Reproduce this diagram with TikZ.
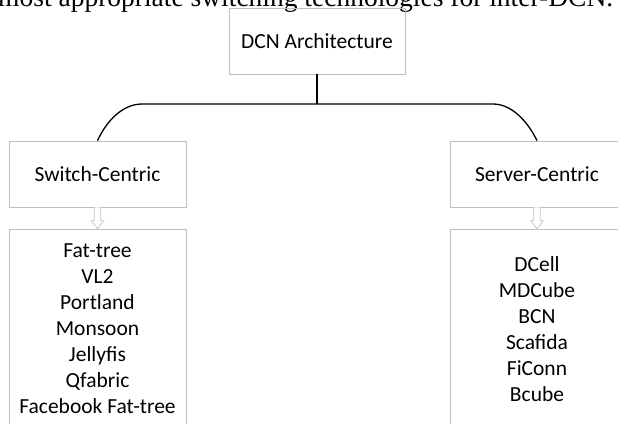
\documentclass[tikz,border=0pt]{standalone}
\usepackage{fontspec}
\usetikzlibrary{calc}
\newfontfamily\calibrifont{Carlito}
\newfontfamily\timesfont{Liberation Serif}
\definecolor{boxgray}{HTML}{BFBFBF}
\definecolor{arrowgreen}{HTML}{B8C8B8}
\def\boxh{66}
\def\shaft{3.2}
\def\headw{6.5}
\def\headl{8}

\begin{document}
\begin{tikzpicture}[x=1pt,y=-1pt]
    \tikzset{%
      catbox/.style={%
        draw=boxgray, line width=0.8pt, inner sep=0pt, minimum width=177pt, minimum height=\boxh pt,
        text=black, font=\calibrifont\fontsize{21.5}{26}\selectfont},
      listbox/.style={catbox, minimum height=200pt, align=center},
      branch/.style={line width=1.3pt},
      hollowarrow/.style={draw=arrowgreen, line width=0.7pt, fill=white}}

    \useasboundingbox (0,0) rectangle (618,423);
    \clip (0,0) rectangle (618,423);
   % \draw[help lines,step=20] (0,0) grid (618,423);

    \node[anchor=base west, inner sep=0pt, font=\timesfont\fontsize{27.5}{30}\selectfont] (lead) at (-2,6) {most appropriate switching technologies for inter-DCN.};

    \node[catbox, minimum width=176pt] (dcn) at (317,41) {DCN Architecture};
    \node[catbox] (switch) at (97.5,174) {Switch-Centric};
    \node[catbox, minimum width=174pt] (server) at (537,174) {Server-Centric};
    \node[listbox] (swlist) at (97.5,329) {Fat-tree\\VL2\\Portland\\Monsoon\\Jellyfis\\Qfabric\\Facebook Fat-tree};
    \node[listbox, minimum width=174pt] (svlist) at (537,329) {DCell\\MDCube\\BCN\\Scafida\\FiConn\\Bcube};

    \coordinate (hub) at (317,104);
    \coordinate (hl) at (142,104);
    \coordinate (hr) at (493,104);

    \draw[branch] (dcn.south) -- (hub);
    \draw[branch] (switch.north) .. controls (106,122) and (122,104) .. (hl) -- (hr) .. controls (512,104) and (528,122) .. (server.north);

    \foreach \cat/\lst in {switch/swlist, server/svlist}
      \draw[hollowarrow] ($(\cat.south)+(-\shaft,0)$) -- ($(\lst.north)+(-\shaft,-\headl)$) -- ($(\lst.north)+(-\headw,-\headl)$) -- (\lst.north) -- ($(\lst.north)+(\headw,-\headl)$) -- ($(\lst.north)+(\shaft,-\headl)$) -- ($(\cat.south)+(\shaft,0)$);
  \end{tikzpicture}
\end{document}
